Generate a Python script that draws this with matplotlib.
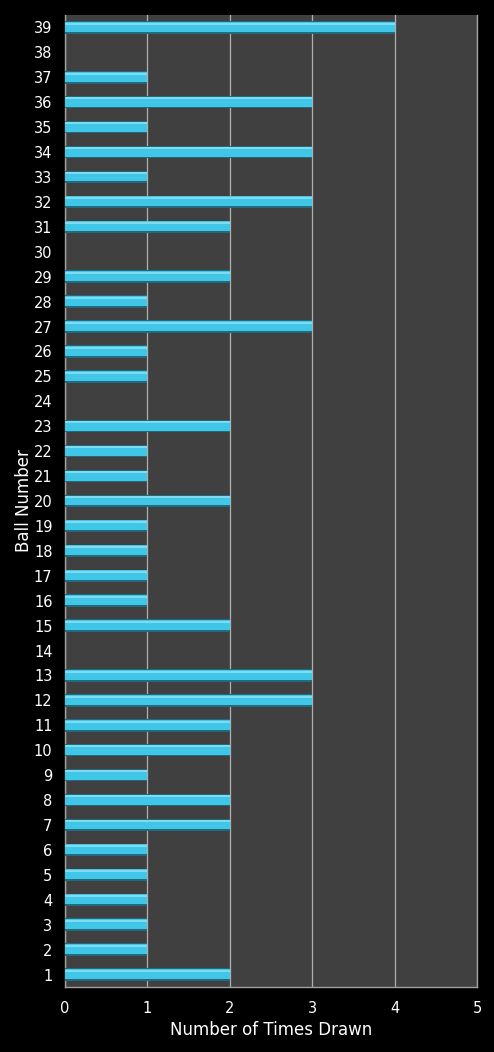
import matplotlib
matplotlib.use("Agg")
import matplotlib.pyplot as plt

# ball numbers 1..39 and how many times each was drawn
balls = list(range(1, 40))
times_drawn = [2, 1, 1, 1, 1, 1, 2, 2, 1, 2,
               2, 3, 3, 0, 2, 1, 1, 1, 1, 2,
               1, 1, 2, 0, 1, 1, 3, 1, 2, 0,
               2, 3, 1, 3, 1, 3, 1, 0, 4]
x_ticks = [0, 1, 2, 3, 4, 5]

plt.rcParams['font.family'] = ['DejaVu Sans']

fig = plt.figure(figsize=(4.94, 10.52), dpi=100, facecolor='black')
ax = fig.add_axes([65/494, 1 - 987/1052, (477-65)/494, (987-15)/1052])
ax.set_facecolor('#404040')

# bar body with a little shading to get the bevelled look
h = 0.5
ax.barh(balls, times_drawn, height=h, color='#226a7e', zorder=3)
ax.barh([b + 0.02 for b in balls], times_drawn, height=h - 0.1,
        color='#40c6e6', zorder=4)
ax.barh([b + 0.15 for b in balls], times_drawn, height=0.08,
        color='#80daf0', zorder=5)

ax.set_xlim(0, 5)
ax.set_ylim(0.5, 39.5)
ax.set_xticks(x_ticks)
ax.set_yticks(balls)
ax.set_yticklabels([str(b) for b in balls])
ax.xaxis.grid(True, color='#b0b0b0', linewidth=0.9, zorder=1)
ax.set_axisbelow(True)

for side in ['left', 'bottom', 'right']:
    ax.spines[side].set_color('#a0a0a0')
    ax.spines[side].set_linewidth(1)
ax.spines['top'].set_visible(False)

ax.tick_params(axis='both', colors='white', labelsize=10.5, length=0)
ax.tick_params(axis='y', pad=9)
ax.tick_params(axis='x', pad=10)

ax.set_xlabel('Number of Times Drawn', color='white', fontsize=12, labelpad=4)
ax.set_ylabel('Ball Number', color='white', fontsize=12)
ax.yaxis.set_label_coords(-0.078, 0.5)

fig.savefig('out.png', dpi=100, facecolor='black')
